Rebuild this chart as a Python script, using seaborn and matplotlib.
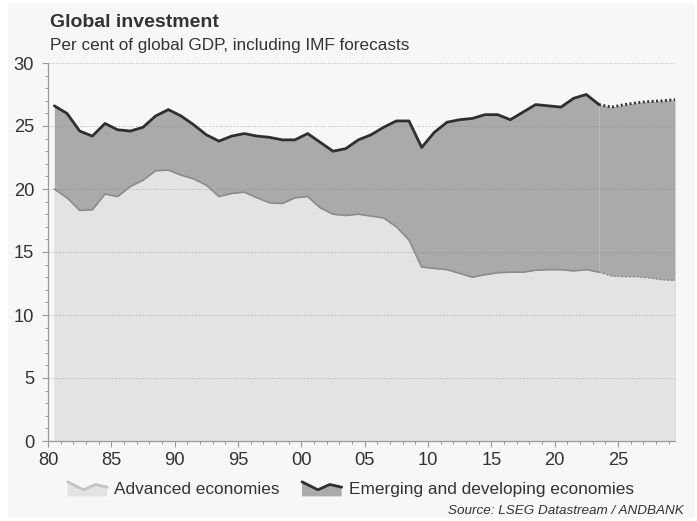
import numpy as np
import pandas as pd
import matplotlib
matplotlib.use("Agg")
import matplotlib.pyplot as plt
import seaborn as sns
from matplotlib.legend_handler import HandlerBase
from matplotlib.patches import Polygon, Patch, Rectangle
from matplotlib.lines import Line2D
from matplotlib.ticker import MultipleLocator, FuncFormatter

# Data (% of global GDP)
years = list(range(1980, 2030))
advanced = [20.0, 19.3, 18.3, 18.35, 19.6, 19.4, 20.2, 20.7, 21.45, 21.5,
            21.1, 20.8, 20.3, 19.4, 19.65, 19.75, 19.3, 18.9, 18.85, 19.3,
            19.4, 18.5, 18.0, 17.9, 18.0, 17.85, 17.7, 17.0, 15.95, 13.8,
            13.7, 13.6, 13.3, 13.0, 13.2, 13.35, 13.4, 13.4, 13.55, 13.6,
            13.6, 13.5, 13.6, 13.4, 13.1, 13.05, 13.05, 12.95, 12.8, 12.75]
emerging = [26.6, 26.0, 24.6, 24.2, 25.2, 24.7, 24.6, 24.9, 25.8, 26.3,
            25.8, 25.1, 24.3, 23.8, 24.2, 24.4, 24.2, 24.1, 23.9, 23.9,
            24.4, 23.7, 23.0, 23.2, 23.9, 24.3, 24.9, 25.4, 25.4, 23.3,
            24.5, 25.3, 25.5, 25.6, 25.9, 25.9, 25.5, 26.1, 26.7, 26.6,
            26.5, 27.2, 27.5, 26.7, 26.5, 26.7, 26.85, 26.95, 27.0, 27.1]
last_actual = 2023

labels = ["Advanced economies", "Emerging and developing economies"]

BG = "#f7f7f7"
ADV_FILL, ADV_LINE = "#e3e3e3", "#8c8c8c"
EM_FILL, EM_LINE = "#aaaaaa", "#2f2f2f"
AX_COL = "#9a9a9a"

df = pd.DataFrame({"year": years, "advanced": advanced, "emerging": emerging})
df["x"] = df["year"] + 0.5  # annual values plotted mid-year
actual = df[df["year"] <= last_actual]
forecast = df[df["year"] >= last_actual]

sns.set_theme(style="ticks")
plt.rcParams["font.family"] = ["Liberation Sans", "DejaVu Sans"]

fig = plt.figure(figsize=(6.97, 5.21), dpi=100, facecolor="white")
# grey panel with a thin white margin
fig.patches.append(Rectangle((8 / 697, 3 / 521), 687 / 697, 515 / 521,
                             transform=fig.transFigure, fc=BG, ec="none", zorder=-5))
ax = fig.add_axes([48 / 697, 80 / 521, 627 / 697, 378 / 521], facecolor=BG)

# areas (overlaid, not stacked)
ax.fill_between(df["x"], 0, df["emerging"], color=EM_FILL, lw=0, zorder=1)
ax.fill_between(df["x"], 0, df["advanced"], color=ADV_FILL, lw=0, zorder=1.1)
fx = last_actual + 0.5
ax.vlines(fx, df.loc[df["year"] == last_actual, "advanced"].iloc[0],
          df.loc[df["year"] == last_actual, "emerging"].iloc[0],
          color="#b8b8b8", lw=0.8, zorder=1.2)

sns.lineplot(data=actual, x="x", y="advanced", ax=ax, color=ADV_LINE, lw=1.2, zorder=3)
sns.lineplot(data=forecast, x="x", y="advanced", ax=ax, color=ADV_LINE, lw=1.2,
             linestyle=(0, (1, 1.3)), zorder=3)
sns.lineplot(data=actual, x="x", y="emerging", ax=ax, color=EM_LINE, lw=2.0, zorder=3)
sns.lineplot(data=forecast, x="x", y="emerging", ax=ax, color=EM_LINE, lw=2.0,
             linestyle=(0, (0.7, 0.9)), zorder=3)

ax.set_xlim(1980, 2029.5)
ax.set_ylim(0, 30)
ax.set_xlabel("")
ax.set_ylabel("")
ax.xaxis.set_major_locator(MultipleLocator(5))
ax.xaxis.set_minor_locator(MultipleLocator(1))
ax.yaxis.set_major_locator(MultipleLocator(5))
ax.yaxis.set_minor_locator(MultipleLocator(1))
ax.xaxis.set_major_formatter(FuncFormatter(lambda v, p: f"{int(round(v)) % 100:02d}"))
ax.tick_params(axis="both", which="major", length=4, width=0.8, color=AX_COL,
               labelsize=13.2, labelcolor="#333333")
ax.tick_params(axis="both", which="minor", length=2.5, width=0.7, color=AX_COL)
ax.tick_params(axis="x", which="major", pad=4)
ax.tick_params(axis="y", which="major", pad=6)
sns.despine(ax=ax)
for s in ("left", "bottom"):
    ax.spines[s].set_color(AX_COL)
    ax.spines[s].set_linewidth(0.9)
ax.set_axisbelow(False)
ax.yaxis.grid(True, linestyle=(0, (1, 1.5)), color="#8a8a8a", alpha=0.55, lw=0.7)


class AreaLineHandler(HandlerBase):
    def __init__(self, fill, line, lw):
        super().__init__()
        self.fill, self.line, self.lw = fill, line, lw

    def create_artists(self, legend, orig_handle, xdescent, ydescent, width, height, fontsize, trans):
        xs = np.array([0.0, 0.4, 0.7, 1.0]) * width - xdescent
        ys = np.array([0.95, 0.35, 0.75, 0.55]) * height - ydescent
        base = -ydescent - 0.15 * height
        poly = Polygon(np.column_stack([np.r_[xs, xs[-1], xs[0]], np.r_[ys, base, base]]),
                       closed=True, fc=self.fill, ec="none", transform=trans)
        ln = Line2D(xs, ys, color=self.line, lw=self.lw, transform=trans)
        return [poly, ln]


h_adv, h_em = Patch(), Patch()
fig.legend([h_adv, h_em], labels, loc="center", bbox_to_anchor=(0.503, 1 - 489 / 521),
           ncol=2, frameon=False, fontsize=12.4, handlelength=2.3, handleheight=0.8,
           handletextpad=0.4, columnspacing=1.3, labelcolor="#333333",
           handler_map={h_adv: AreaLineHandler(ADV_FILL, "#c4c4c4", 2.0),
                        h_em: AreaLineHandler(EM_FILL, EM_LINE, 2.0)})

fig.text(50 / 697, 1 - 27 / 521, "Global investment", fontsize=14, fontweight="bold",
         color="#333333", va="baseline", ha="left")
fig.text(50 / 697, 1 - 50 / 521, "Per cent of global GDP, including IMF forecasts",
         fontsize=12.3, color="#333333", va="baseline", ha="left")
fig.text(684 / 697, 7 / 521, "Source: LSEG Datastream / ANDBANK", fontsize=9.7,
         style="italic", color="#333333", va="baseline", ha="right")

fig.savefig("out.png", dpi=100, facecolor="white")
